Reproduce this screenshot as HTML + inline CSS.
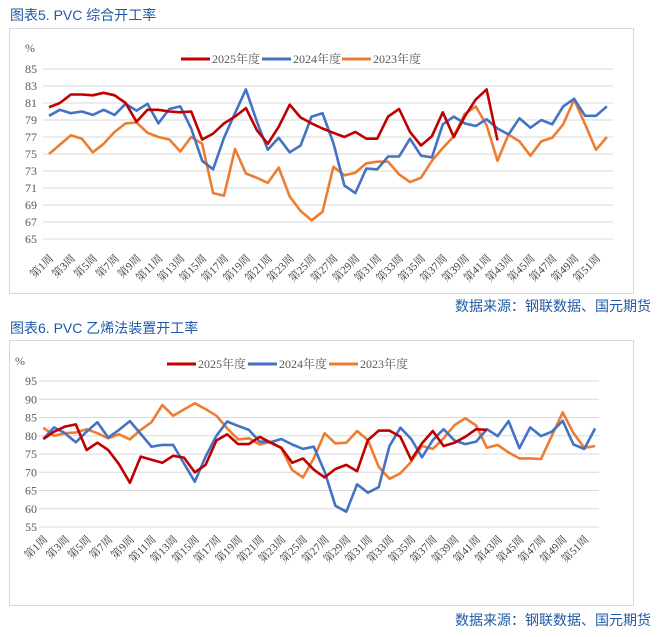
<!DOCTYPE html>
<html><head><meta charset="utf-8"><style>
body{margin:0;background:#fff;width:664px;height:632px;overflow:hidden;font-family:"Liberation Sans","Noto Sans CJK SC",sans-serif}
</style></head><body>
<svg id="s" width="664" height="632" xmlns="http://www.w3.org/2000/svg"></svg>
<script>
var S=document.getElementById('s'),h='';
function t(x,y,txt,o){o=o||{};h+='<text x="'+x+'" y="'+y+'" font-size="'+(o.fs||11)+'" fill="'+(o.c||'#595959')+'" text-anchor="'+(o.a||'start')+'" font-family="'+(o.f||'Liberation Serif, Noto Serif CJK SC, serif')+'"'+(o.tr?' transform="'+o.tr+'"':'')+'>'+txt+'</text>';}
function chart(c){
 h+='<text x="10" y="'+c.ty+'" font-size="14" fill="#1f5aa6" font-family="Liberation Sans, Noto Sans CJK SC, sans-serif">'+c.title+'</text>';
 h+='<rect x="9.5" y="'+c.by+'.5" width="624" height="'+c.bh+'" fill="none" stroke="#d9d9d9"/>';
 for(var v=c.min;v<=c.max;v+=c.st){var y=c.y0+(c.max-v)*c.k;h+='<line x1="'+c.gx1+'" x2="'+c.gx2+'" y1="'+y+'" y2="'+y+'" stroke="#d9d9d9"/>';t(c.lx,y+4,v,{a:'end',fs:12});}
 t(c.px,c.py,'%',{fs:12});
 var cols=['#c00000','#4472c4','#ed7d31'],names=['2025年度','2024年度','2023年度'];
 for(var i=0;i<3;i++){var L=c.leg[i];h+='<line x1="'+L+'" x2="'+(L+29)+'" y1="'+c.ly+'" y2="'+c.ly+'" stroke="'+cols[i]+'" stroke-width="3"/>';t(L+31,c.ly+4,names[i],{fs:12});}
 var order=[2,1,0];
 order.forEach(function(i){var d=c.d[i],p=[];for(var j=0;j<d.length;j++)p.push((c.x0+j*c.dx).toFixed(1)+','+(c.y0+(c.max-d[j])*c.k).toFixed(1));h+='<polyline points="'+p.join(' ')+'" fill="none" stroke="'+cols[i]+'" stroke-width="2.6" stroke-linejoin="round"/>';});
 for(var w=1;w<=51;w+=2){var x=c.x0+(w-1)*c.dx+5,y=c.xly;t(x,y,'第'+w+'周',{a:'end',fs:11,c:'#404040',tr:'rotate(-45 '+x+' '+y+')'});}
 h+='<text x="651" y="'+c.sy+'" font-size="14" fill="#1f5aa6" text-anchor="end" font-family="Liberation Sans, Noto Sans CJK SC, sans-serif">数据来源：钢联数据、国元期货</text>';
}
chart({title:'图表5.  PVC 综合开工率',ty:20,by:28,bh:265,min:65,max:85,st:2,y0:69,k:8.5,gx1:43,gx2:613,lx:37,px:25,py:52,ly:59,leg:[181,262,342],x0:49,dx:10.94,xly:259,sy:311,
d:[[80.5,81.0,82.0,82.0,81.9,82.2,81.9,81.0,78.8,80.2,80.2,80.0,79.9,80.0,76.7,77.4,78.6,79.4,80.4,77.8,76.2,78.2,80.8,79.3,78.6,78.0,77.5,77.0,77.6,76.8,76.8,79.4,80.3,77.6,76.0,77.1,79.9,77.0,79.4,81.4,82.6,76.6],
[79.5,80.2,79.8,80.0,79.6,80.2,79.6,80.9,80.1,80.9,78.6,80.3,80.6,78.0,74.2,73.2,76.9,79.8,82.6,78.8,75.5,76.9,75.2,76.0,79.4,79.8,76.3,71.3,70.4,73.3,73.2,74.7,74.7,76.8,74.8,74.6,78.5,79.4,78.6,78.3,79.1,78.0,77.3,79.2,78.1,79.0,78.5,80.6,81.5,79.5,79.5,80.6],
[75.0,76.1,77.2,76.8,75.2,76.2,77.6,78.6,78.7,77.5,77.0,76.7,75.3,77.0,76.2,70.4,70.1,75.6,72.7,72.2,71.6,73.4,70.0,68.3,67.2,68.2,73.5,72.5,72.8,73.9,74.1,74.1,72.6,71.7,72.2,74.2,75.7,77.1,79.7,80.6,78.4,74.2,77.3,76.5,74.8,76.5,76.9,78.5,81.4,78.5,75.5,77.0]]});
chart({title:'图表6.  PVC 乙烯法装置开工率',ty:333,by:340,bh:265,min:55,max:95,st:5,y0:381,k:3.65,gx1:39,gx2:599,lx:37,px:15,py:365,ly:364,leg:[167,248,329],x0:43.3,dx:10.82,xly:540,sy:625,
d:[[79.1,81.1,82.5,83.1,76.1,78.1,76.1,72.2,67.1,74.3,73.4,72.6,74.5,74.0,70.0,72.0,78.7,80.4,77.7,77.7,79.7,78.1,76.7,72.6,73.8,70.7,68.6,70.9,72.0,70.3,78.8,81.4,81.4,79.7,73.4,77.9,81.3,77.2,78.1,79.7,81.8,81.6],
[79.1,82.3,80.7,78.2,81.1,83.7,79.5,81.6,84.0,80.5,77.0,77.5,77.5,72.4,67.4,74.3,80.0,83.9,82.7,81.6,78.4,78.2,79.1,77.6,76.4,77.0,70.2,60.8,59.2,66.7,64.4,65.9,77.2,82.2,79.1,74.1,78.8,81.8,78.7,77.7,78.4,81.8,79.9,84.0,76.6,82.3,79.9,81.1,84.1,77.6,76.4,82.0],
[82.2,80.0,80.7,80.9,81.8,80.7,79.3,80.4,79.0,81.6,83.7,88.4,85.5,87.2,88.9,87.3,85.5,82.0,79.0,79.3,77.6,78.4,76.6,70.6,68.6,73.8,80.7,77.9,78.1,81.3,78.8,71.5,68.2,69.7,72.9,77.2,76.4,79.3,82.9,84.8,82.8,76.7,77.5,75.4,73.8,73.8,73.6,80.0,86.4,80.7,76.7,77.2]]});
S.innerHTML=h;
</script>
</body></html>
